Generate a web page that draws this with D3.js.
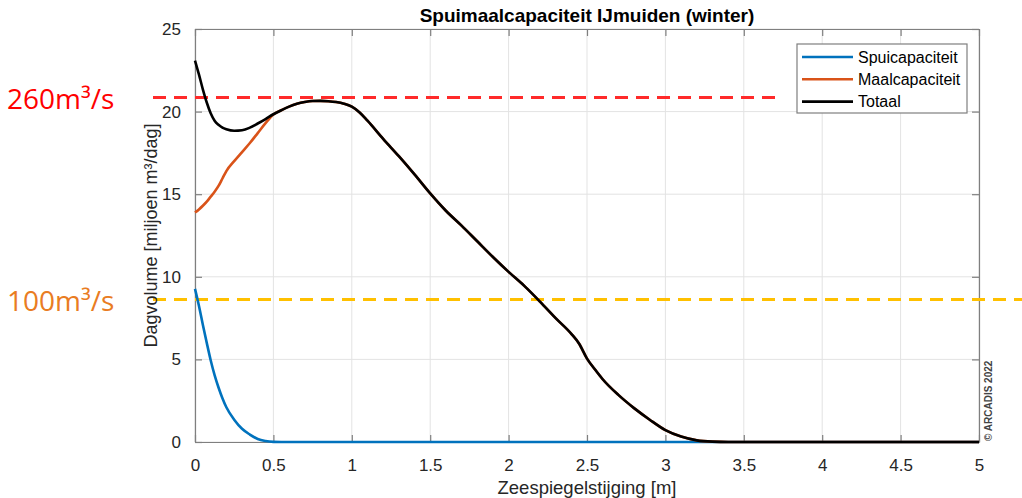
<!DOCTYPE html>
<html><head><meta charset="utf-8">
<script src="https://cdn.jsdelivr.net/npm/d3@7"></script>
<style>body{margin:0;background:#fff;} svg{display:block}</style>
</head><body>
<svg id="chart" width="1022" height="498"></svg>
<script>
// ---- data ----
const zeespiegel = [0,0.025,0.05,0.075,0.1,0.125,0.15,0.175,0.2,
  0.25,0.3,0.35,0.4,0.45,0.5,0.55,0.6,0.65,0.7,0.75,0.8,0.85,0.9,0.95,1.0,1.05,
  1.1,1.2,1.3,1.4,1.5,1.6,1.7,1.8,1.9,2.0,2.1,2.2,2.3,2.4,
  2.45,2.5,2.55,
  2.6,2.7,2.8,2.9,3.0,3.1,3.2,3.3,3.4,3.5,
  4.0,4.5,5.0];
const spuicapaciteit = [9.27,8.25,7.1,6.0,4.95,4.05,3.3,2.65,2.1,
  1.35,0.8,0.45,0.18,0.06,0.01,0,0,0,0,0,0,0,0,0,0,0,
  0,0,0,0,0,0,0,0,0,0,0,0,0,0,
  0,0,0,
  0,0,0,0,0,0,0,0,0,0,
  0,0,0];
const maalcapaciteit = [13.89,14.08,14.3,14.55,14.85,15.15,15.5,15.95,16.4,
  17.0,17.55,18.1,18.7,19.3,19.82,20.08,20.3,20.47,20.58,20.64,20.65,20.63,20.58,20.48,20.3,19.95,
  19.45,18.35,17.3,16.2,15.05,14.0,13.1,12.15,11.2,10.3,9.45,8.5,7.5,6.55,
  5.95,5.05,4.4,
  3.8,2.85,2.05,1.35,0.72,0.33,0.1,0.02,0,0,
  0,0,0];
const totaal = [23.09,22.25,21.35,20.55,19.9,19.45,19.2,19.03,18.93,
  18.84,18.87,19.03,19.28,19.55,19.84,20.08,20.3,20.47,20.58,20.64,20.65,20.63,20.58,20.48,20.3,19.95,
  19.45,18.35,17.3,16.2,15.05,14.0,13.1,12.15,11.2,10.3,9.45,8.5,7.5,6.55,
  5.95,5.05,4.4,
  3.8,2.85,2.05,1.35,0.72,0.33,0.1,0.02,0,0,
  0,0,0];
const seriesNames = ["Spuicapaciteit","Maalcapaciteit","Totaal"];
const seriesColors = ["#0072BD","#D95319","#000000"];
const xTicks = [0,0.5,1,1.5,2,2.5,3,3.5,4,4.5,5];
const yTicks = [0,5,10,15,20,25];
const thresholdValues = [20.85, 8.62];
const thresholdLabels = ["260m³/s","100m³/s"];
const titleText = "Spuimaalcapaciteit IJmuiden (winter)";
const xLabel = "Zeespiegelstijging [m]";
const yLabel = "Dagvolume [miljoen m³/dag]";
const credit = "© ARCADIS 2022";

// ---- layout ----
const svg = d3.select("#chart");
const L = 195, R = 979, T = 29, B = 442;
const x = d3.scaleLinear().domain([0,5]).range([L,R]);
const y = d3.scaleLinear().domain([0,25]).range([B,T]);
const axisColor = "#262626";
const font = "'Liberation Sans', Arial, Helvetica, sans-serif";

// grid
const g = svg.append("g");
g.selectAll(".gx").data(xTicks).join("line")
  .attr("x1",d=>x(d)).attr("x2",d=>x(d)).attr("y1",T).attr("y2",B)
  .attr("stroke","#e3e3e3").attr("stroke-width",1);
g.selectAll(".gy").data(yTicks).join("line")
  .attr("x1",L).attr("x2",R).attr("y1",d=>y(d)).attr("y2",d=>y(d))
  .attr("stroke","#e3e3e3").attr("stroke-width",1);

// axes (MATLAB style: inward ticks, box)
const tickLen = 7;
const xAxisB = d3.axisBottom(x).tickValues(xTicks).tickSizeInner(-tickLen).tickSizeOuter(0).tickPadding(tickLen+10).tickFormat(d3.format("~g"));
const xAxisT = d3.axisTop(x).tickValues(xTicks).tickSizeInner(-tickLen).tickSizeOuter(0).tickFormat("");
const yAxisL = d3.axisLeft(y).tickValues(yTicks).tickSizeInner(-tickLen).tickSizeOuter(0).tickPadding(tickLen+7);
const yAxisR = d3.axisRight(y).tickValues(yTicks).tickSizeInner(-tickLen).tickSizeOuter(0).tickFormat("");
function style(sel){
  sel.select(".domain").attr("stroke","#7f7f7f").attr("stroke-width",1.2);
  sel.selectAll(".tick line").attr("stroke","#7f7f7f").attr("stroke-width",1.2);
  sel.selectAll(".tick text").attr("fill",axisColor).attr("font-size",17).attr("font-family",font);
}
svg.append("g").attr("transform",`translate(0,${B})`).call(xAxisB).call(style);
svg.append("g").attr("transform",`translate(0,${T})`).call(xAxisT).call(style);
svg.append("g").attr("transform",`translate(${L},0)`).call(yAxisL).call(style);
svg.append("g").attr("transform",`translate(${R},0)`).call(yAxisR).call(style);

// threshold lines
const thrColors = ["#FF2A2A","#FFC000"];
const thrTextColors = ["#FF0000","#E97C22"];
const thrX2 = [780, 1022];
svg.selectAll(".thr").data(thresholdValues).join("line")
  .attr("x1",153).attr("x2",(d,i)=>thrX2[i])
  .attr("y1",d=>y(d)).attr("y2",d=>y(d))
  .attr("stroke",(d,i)=>thrColors[i]).attr("stroke-width",3)
  .attr("stroke-dasharray","13,8");
svg.selectAll(".thrl").data(thresholdValues).join("text")
  .attr("x",7).attr("y",d=>y(d)+11)
  .attr("fill",(d,i)=>thrTextColors[i])
  .attr("font-family","'Open Sans','Noto Sans',sans-serif").attr("font-size",28)
  .text((d,i)=>thresholdLabels[i]);

// series
const series = [spuicapaciteit, maalcapaciteit, totaal];
const line = d3.line().x((d,i)=>x(zeespiegel[i])).y(d=>y(d)).curve(d3.curveMonotoneX);
svg.selectAll(".series").data(series).join("path")
  .attr("d",d=>line(d)).attr("fill","none")
  .attr("stroke",(d,i)=>seriesColors[i]).attr("stroke-width",2.6)
  .attr("stroke-linejoin","round");

// title & labels
svg.append("text").attr("x",(L+R)/2).attr("y",22).attr("text-anchor","middle")
  .attr("font-family",font).attr("font-weight","bold").attr("font-size",19)
  .attr("fill","#000").text(titleText);
svg.append("text").attr("x",(L+R)/2).attr("y",494).attr("text-anchor","middle")
  .attr("font-family",font).attr("font-size",18.5).attr("fill",axisColor).text(xLabel);
svg.append("text").attr("transform",`translate(157,${(T+B)/2}) rotate(-90)`).attr("text-anchor","middle")
  .attr("font-family",font).attr("font-size",18).attr("fill",axisColor).text(yLabel);
svg.append("text").attr("transform",`translate(992,441) rotate(-90)`)
  .attr("font-family",font).attr("font-size",10).attr("font-weight","bold").attr("fill","#444").text(credit);

// legend
const lg = svg.append("g");
lg.append("rect").attr("x",797).attr("y",44).attr("width",170).attr("height",69)
  .attr("fill","#fff").attr("stroke","#7f7f7f").attr("stroke-width",1.2);
const rows = lg.selectAll(".row").data(seriesNames).join("g")
  .attr("transform",(d,i)=>`translate(0,${57+i*22.3})`);
rows.append("line").attr("x1",802).attr("x2",853).attr("y1",0).attr("y2",0)
  .attr("stroke",(d,i)=>seriesColors[i]).attr("stroke-width",2.6);
rows.append("text").attr("x",858).attr("y",5.5).attr("font-family",font).attr("font-size",16)
  .attr("fill","#000").text(d=>d);
</script>
</body></html>
